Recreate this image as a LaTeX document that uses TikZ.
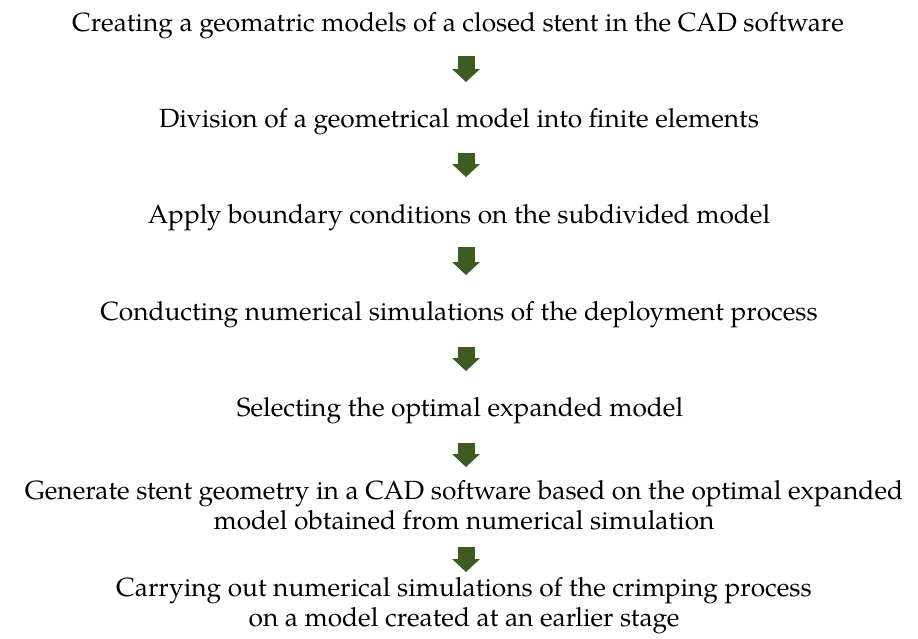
\documentclass[tikz,border=0pt]{standalone}
\usepackage{fontspec}
\setmainfont{TeX Gyre Pagella}
\usetikzlibrary{arrows.meta,calc}
\definecolor{arrowgreen}{RGB}{62,92,34}
\tikzset{
  txt/.style={anchor=base, align=center, inner sep=0pt, font=\fontsize{26.3}{29.5}\selectfont},
  bigarrow/.style={draw=arrowgreen, line width=17pt, -{Triangle[width=28pt,length=13pt,line width=0pt,fill=arrowgreen]}}
}
\begin{document}
\begin{tikzpicture}[x=1pt,y=-1pt]
\useasboundingbox (0,0) rectangle (918,638);
\coordinate (ax) at (466,0);
\node[txt] (n1) at (458,31) {Creating a geomatric models of a closed stent in the CAD software};
\node[txt] (n2) at (459,127) {Division of a geometrical model into finite elements};
\node[txt] (n3) at (459,223) {Apply boundary conditions on the subdivided model};
\node[txt] (n4) at (459,320) {Conducting numerical simulations of the deployment process};
\node[txt] (n5) at (460,416) {Selecting the optimal expanded model};
\node[txt] (n6) at (464,529) {Generate stent geometry in a CAD software based on the optimal expanded\\model obtained from numerical simulation};
\node[txt] (n7) at (464,626) {Carrying out numerical simulations of the crimping process\\on a model created at an earlier stage};
\draw[bigarrow] ($(n1.base -| ax)+(0,25)$) -- ($(n2.base -| ax)+(0,-45)$);
\draw[bigarrow] ($(n2.base -| ax)+(0,26)$) -- ($(n3.base -| ax)+(0,-46)$);
\draw[bigarrow] ($(n3.base -| ax)+(0,24)$) -- ($(n4.base -| ax)+(0,-45)$);
\draw[bigarrow] ($(n4.base -| ax)+(0,27)$) -- ($(n5.base -| ax)+(0,-45)$);
\draw[bigarrow] ($(n5.base -| ax)+(0,27)$) -- ($(n6.base -| ax)+(0,-62)$);
\draw[bigarrow] ($(n6.base -| ax)+(0,18)$) -- ($(n7.base -| ax)+(0,-54)$);
\end{tikzpicture}
\end{document}
